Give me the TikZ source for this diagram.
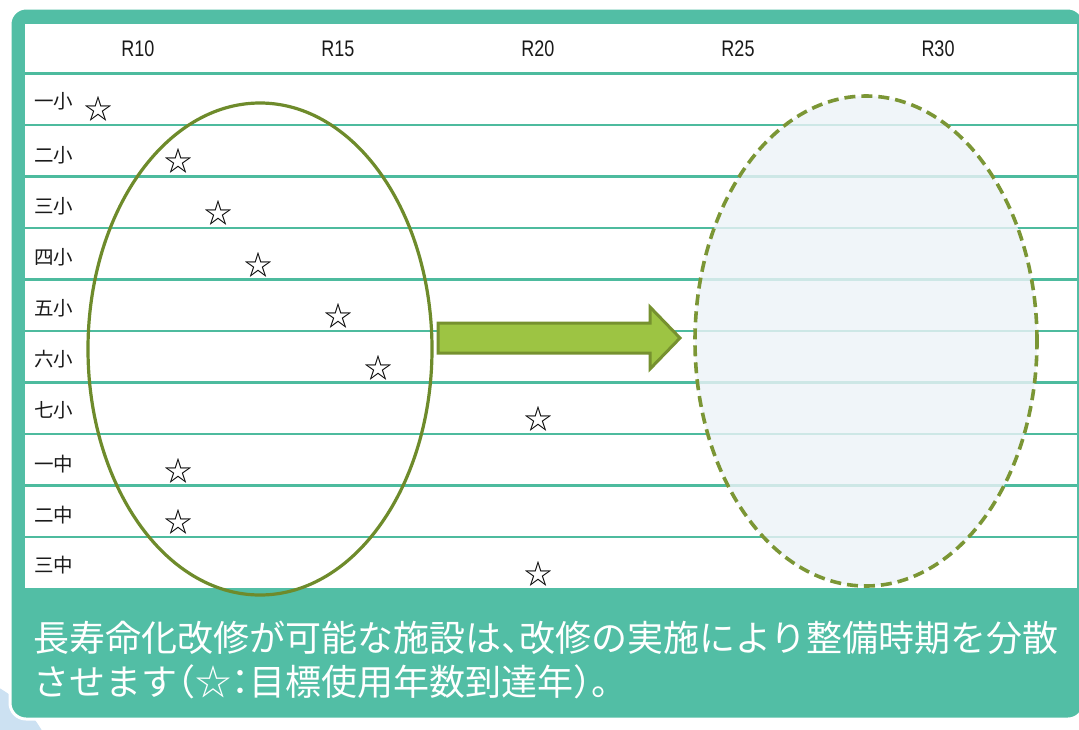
\documentclass[tikz,border=0pt]{standalone}
\usepackage{fontspec}
\usepackage{graphicx}
\setmainfont{Noto Sans CJK JP}
\newfontfamily\haltfont[RawFeature=+halt]{Noto Sans CJK JP}
\newfontfamily\latinfont{Liberation Sans}
\usetikzlibrary{shapes.geometric}
\definecolor{framec}{HTML}{52BEA5}
\definecolor{linec}{HTML}{4DBB9E}
\definecolor{olivec}{HTML}{6E8B2B}
\definecolor{dashc}{HTML}{7B9635}
\definecolor{arrowfill}{HTML}{9DC443}
\definecolor{arrowline}{HTML}{76912F}
\definecolor{lightfill}{HTML}{EDF3F8}
\definecolor{shadowc}{HTML}{CCE1F2}
\definecolor{labc}{HTML}{1A1A1A}
\begin{document}
\begin{tikzpicture}[x=1pt,y=-1pt,
  framebox/.style={fill=framec,draw=white,line width=3,rounded corners=16},
  rowline/.style={draw=linec,line width=2.6},
  yearlab/.style={font=\latinfont\fontsize{22.5}{22.5}\selectfont,text=labc,inner sep=0},
  rowlab/.style={font=\fontsize{19.5}{19.5}\selectfont,text=labc,anchor=west,inner sep=0},
  starmark/.style={font=\fontsize{28}{28}\selectfont,text=black,inner sep=0},
  bigtext/.style={font=\fontsize{36}{36}\selectfont,text=white,anchor=base west,inner sep=0},
  groupA/.style={ellipse,draw=olivec,line width=3.2,minimum width=344,minimum height=492,inner sep=0},
  groupB/.style={ellipse,draw=dashc,line width=3.6,dash pattern=on 11 off 6,fill=lightfill,fill opacity=0.8,draw opacity=1,minimum width=342,minimum height=490,inner sep=0},
  blockarrow/.style={fill=arrowfill,draw=arrowline,line width=3,line join=miter}
]
\useasboundingbox (0,0) rectangle (1079,729);
% light blue shape behind, bottom-left
\fill[shadowc] (-60,790) circle[radius=118];
% teal frame
\path[framebox] (10,8) rectangle (1084,719);
% white table area
\fill[white] (25,24) rectangle (1077,588);
% row lines
\foreach \i in {0,...,9} {
  \draw[rowline] (25,{73.5+51.5*\i}) -- (1077,{73.5+51.5*\i});
}
% year labels
\node[yearlab] (r10) at (138,48.5) {\scalebox{0.8}[1]{R10}};
\node[yearlab] (r15) at (338,48.5) {\scalebox{0.8}[1]{R15}};
\node[yearlab] (r20) at (538,48.5) {\scalebox{0.8}[1]{R20}};
\node[yearlab] (r25) at (738,48.5) {\scalebox{0.8}[1]{R25}};
\node[yearlab] (r30) at (938,48.5) {\scalebox{0.8}[1]{R30}};
% row labels
\node[rowlab] (s1) at (34,101) {一小};
\node[rowlab] (s2) at (34,155) {二小};
\node[rowlab] (s3) at (34,206) {三小};
\node[rowlab] (s4) at (34,257) {四小};
\node[rowlab] (s5) at (34,308) {五小};
\node[rowlab] (s6) at (34,359) {六小};
\node[rowlab] (s7) at (34,410) {七小};
\node[rowlab] (j1) at (34,464) {一中};
\node[rowlab] (j2) at (34,515) {二中};
\node[rowlab] (j3) at (34,565) {三中};
% dashed target ellipse
\node[groupB] (targetgroup) at (866,341) {};
% stars
\node[starmark] (t1) at (98,109) {☆};
\node[starmark] (t2) at (178,161) {☆};
\node[starmark] (t3) at (218,213) {☆};
\node[starmark] (t4) at (258,265) {☆};
\node[starmark] (t5) at (338,316) {☆};
\node[starmark] (t6) at (378,368) {☆};
\node[starmark] (t7) at (538,419) {☆};
\node[starmark] (t8) at (178,471) {☆};
\node[starmark] (t9) at (178,522) {☆};
\node[starmark] (t10) at (538,574) {☆};
% solid ellipse
\node[groupA] (sourcegroup) at (260,349) {};
% block arrow
\path[blockarrow] (438,323) -- (650,323) -- (650,307) -- (680,338) -- (650,369) -- (650,353) -- (438,353) -- cycle;
% caption
\node[bigtext] (cap1) at (33,651) {長寿命化改修が可能な施設は{\haltfont 、}改修の実施により整備時期を分散};
\node[bigtext] (cap2) at (33,695) {させます{\haltfont （}☆{\haltfont ：}目標使用年数到達年{\haltfont ）。}};
\end{tikzpicture}
\end{document}
